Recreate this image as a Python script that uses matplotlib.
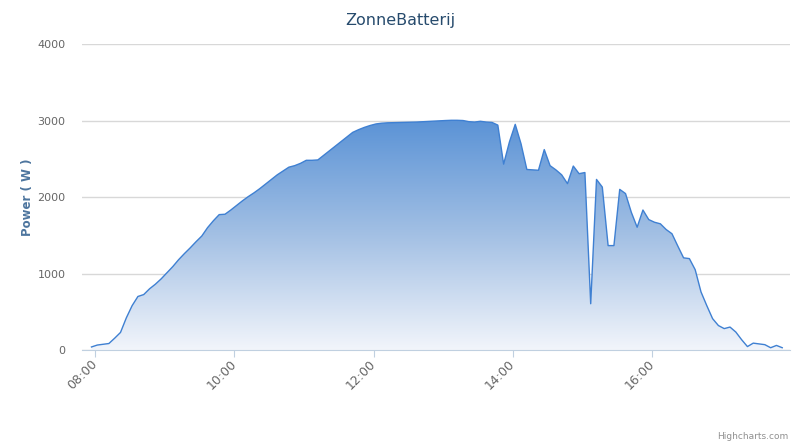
import numpy as np
import pandas as pd
import matplotlib
matplotlib.use('Agg')
import matplotlib.pyplot as plt
import matplotlib.dates as mdates
from matplotlib.colors import LinearSegmentedColormap

plt.rcParams['font.family'] = 'DejaVu Sans'

# samples every 5 minutes, first one at 07:57
start_time = '2014-06-01 07:57'
step = '5min'
power = [40, 65, 75, 85, 155, 230, 420, 580, 700, 725,
         800, 860, 930, 1010, 1090, 1180, 1260, 1335, 1415, 1490,
         1600, 1690, 1770, 1775, 1830, 1890, 1950, 2005, 2055, 2110,
         2170, 2230, 2290, 2340, 2390, 2410, 2440, 2480, 2480, 2485,
         2545, 2605, 2665, 2725, 2785, 2845, 2880, 2910, 2935, 2955,
         2965, 2970, 2972, 2974, 2976, 2978, 2980, 2984, 2988, 2992,
         2996, 3000, 3003, 3003, 3000, 2985, 2980, 2990, 2980, 2975,
         2940, 2430, 2720, 2950, 2695, 2360, 2355, 2350, 2620, 2410,
         2355, 2290, 2175, 2405, 2305, 2320, 605, 2230, 2130, 1365,
         1365, 2100, 2045, 1800, 1605, 1830, 1705, 1670, 1650, 1575,
         1520, 1360, 1205, 1195, 1050, 760, 580, 410, 320, 280,
         300, 235, 135, 45, 90, 80, 70, 30, 60, 30]
y_ticks = [0, 1000, 2000, 3000, 4000]
x_tick_hours = [8, 10, 12, 14, 16]

times = pd.date_range(start_time, periods=len(power), freq=step)
x = mdates.date2num(times)
y = np.array(power, dtype=float)

fig = plt.figure(figsize=(8, 4.46), dpi=100)
ax = fig.add_axes([0.1025, 0.2152, 0.885, 0.6861])

# gradient area fill, clipped to the area under the curve
poly = ax.fill_between(x, y, 0, color='none', lw=0)
cmap = LinearSegmentedColormap.from_list('area', ['#f2f5fb', '#a3c0e4', '#5b93d6'])
grad = np.linspace(0, 1, 256).reshape(-1, 1)
img = ax.imshow(grad, cmap=cmap, aspect='auto', origin='lower',
                extent=[x.min(), x.max(), 0, y.max()], zorder=2)
clip = poly.get_paths()[0]
img.set_clip_path(clip, transform=ax.transData)
ax.plot(x, y, color='#3f80d2', lw=1.0, zorder=3)

ax.set_xlim(mdates.date2num(pd.Timestamp('2014-06-01 07:48:50')),
            mdates.date2num(pd.Timestamp('2014-06-01 17:58:40')))
ax.set_ylim(0, 4000)
ax.set_yticks(y_ticks)
ax.yaxis.grid(True, color='#d8d8d8', lw=1)
ax.set_axisbelow(True)

ax.xaxis.set_major_locator(mdates.HourLocator(byhour=x_tick_hours))
ax.xaxis.set_major_formatter(mdates.DateFormatter('%H:%M'))
ax.tick_params(axis='x', colors='#666666', labelsize=9, length=5,
               color='#c0d0e0', pad=3.5)
for lab in ax.get_xticklabels():
    lab.set_rotation(45)
    lab.set_ha('right')
    lab.set_va('center')
    lab.set_rotation_mode('anchor')

for side in ['top', 'right', 'left']:
    ax.spines[side].set_visible(False)
ax.spines['bottom'].set_color('#c0d0e0')
ax.tick_params(axis='y', colors='#666666', labelsize=8, length=0, pad=12)

ax.set_ylabel('Power ( W )', color='#4d759e', fontsize=8.5,
              fontweight='bold', labelpad=2)
fig.text(0.5, 0.955, 'ZonneBatterij', ha='center', va='center',
         fontsize=11.5, color='#274b6d')
fig.text(0.985, 0.022, 'Highcharts.com', ha='right', va='center',
         fontsize=6.5, color='#909090')

plt.savefig('out.png', dpi=100)
